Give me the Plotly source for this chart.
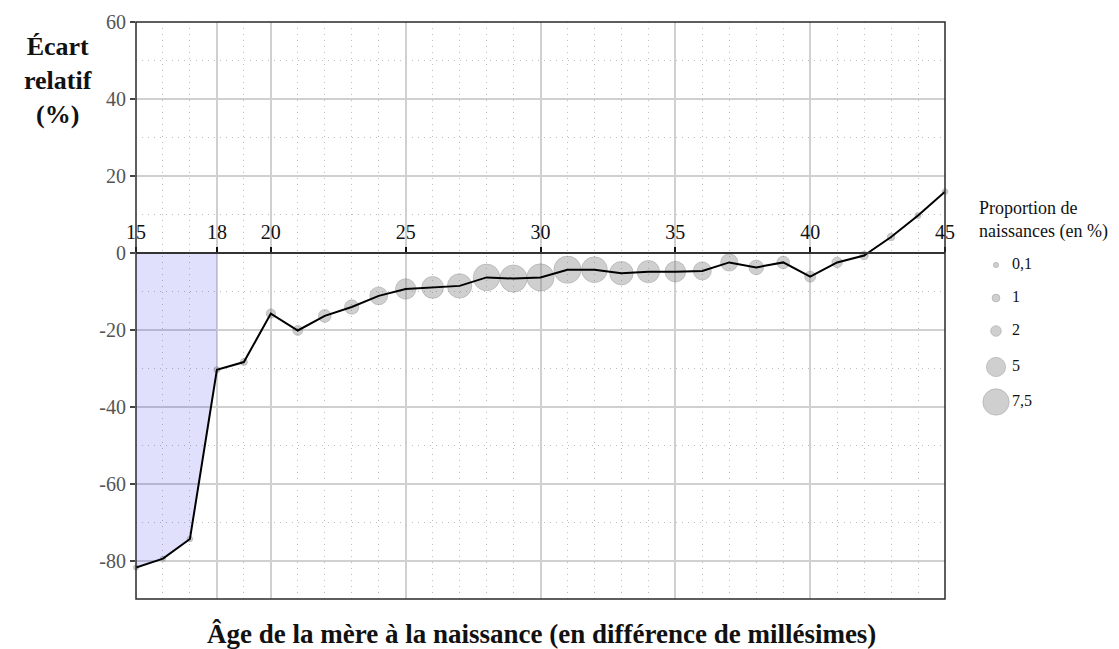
import plotly.graph_objects as go

# Âge de la mère (différence de millésimes)
ages = list(range(15, 46))

# Écart relatif (%) par âge de la mère
ecart = [-81.8, -79.5, -74.4, -30.4, -28.4, -15.8, -20.2, -16.4, -14.1, -11.2,
         -9.4, -9.0, -8.6, -6.4, -6.7, -6.4, -4.4, -4.4, -5.3, -4.9,
         -4.9, -4.7, -2.5, -3.8, -2.5, -6.2, -2.5, -0.7, 4.1, 9.7, 15.9]

# Proportion de naissances (en %) par âge de la mère
proportion = [0.05, 0.1, 0.2, 0.4, 0.7, 1.5, 1.7, 2.7, 3.3, 4.5,
              5.4, 5.9, 6.8, 7.6, 7.8, 7.8, 7.8, 7.3, 6.5, 6.1,
              5.5, 4.6, 4.3, 3.4, 2.7, 2.1, 1.9, 1.25, 0.9, 0.35, 0.2]

# Valeurs de la légende des tailles
legend_values = [0.1, 1, 2, 5, 7.5]
legend_labels = ["0,1", "1", "2", "5", "7,5"]

x_ticks = [15, 18, 20, 25, 30, 35, 40, 45]
y_ticks = [-80, -60, -40, -20, 0, 20, 40, 60]

AGE_MAJORITE = 18
FONT = "Liberation Serif"
W, H = 1119, 649
L, T, B = 136, 22, 50
PLOT_R = 945  # bord droit de la zone de tracé (px)
Y_MIN, Y_MAX = -90, 60

BUBBLE_FILL = "rgba(120,120,120,0.5)"
BUBBLE_EDGE = "rgba(110,110,110,0.45)"
DOT_GRID = "#bdbdbd"


def diametre(p):
    """Diamètre (px) d'une bulle pour une proportion p (%)."""
    return 5 + 2.85 * p


paper_w = W - L
plot_h = H - T - B
x_dom_end = (PLOT_R - L) / paper_w

fig = go.Figure()

# Zone des mères mineures : entre la courbe et 0
mineures = [(a, e) for a, e in zip(ages, ecart) if a <= AGE_MAJORITE]
fx = [a for a, _ in mineures] + [mineures[-1][0], mineures[0][0]]
fy = [e for _, e in mineures] + [0, 0]
fig.add_trace(go.Scatter(
    x=fx, y=fy, fill="toself", mode="lines",
    fillcolor="rgba(0,0,240,0.12)", line=dict(width=0),
    hoverinfo="skip", showlegend=False,
))

# Bulles proportionnelles aux naissances
fig.add_trace(go.Scatter(
    x=ages, y=ecart, mode="markers",
    marker=dict(size=[diametre(p) for p in proportion],
                color=BUBBLE_FILL, line=dict(width=1, color=BUBBLE_EDGE)),
    cliponaxis=False, showlegend=False,
))

# Courbe de l'écart relatif
fig.add_trace(go.Scatter(
    x=ages, y=ecart, mode="lines",
    line=dict(color="black", width=2),
    cliponaxis=False, showlegend=False,
))

# Légende des tailles (axes annexes en coordonnées pixel)
leg_x0 = L + 0.845 * paper_w
leg_y = [265, 298, 331, 367, 402]
fig.add_trace(go.Scatter(
    x=[996] * len(legend_values), y=leg_y, mode="markers",
    marker=dict(size=[diametre(v) for v in legend_values],
                color=BUBBLE_FILL, line=dict(width=1, color=BUBBLE_EDGE)),
    xaxis="x2", yaxis="y2", showlegend=False, cliponaxis=False,
))
fig.add_trace(go.Scatter(
    x=[1012] * len(legend_values), y=leg_y, mode="text",
    text=legend_labels, textposition="middle right",
    textfont=dict(family=FONT, size=16, color="#111"),
    xaxis="x2", yaxis="y2", showlegend=False, cliponaxis=False,
))

grid_major = dict(showgrid=True, gridcolor="#d0d0d0", gridwidth=2)

fig.update_layout(
    width=W, height=H, autosize=False,
    margin=dict(l=L, r=0, t=T, b=B, autoexpand=False),
    paper_bgcolor="white", plot_bgcolor="white",
    font=dict(family=FONT, color="#222"),
    xaxis=dict(
        domain=[0, x_dom_end], range=[15, 45], automargin=False,
        anchor="free", position=(0 - Y_MIN) / (Y_MAX - Y_MIN), side="top",
        tickvals=x_ticks, ticks="outside", ticklen=5, tickwidth=2,
        tickcolor="#111",
        tickfont=dict(family=FONT, size=20, color="#111"),
        showline=True, linecolor="#333", linewidth=1.5,
        zeroline=False,
        minor=dict(tickvals=ages, showgrid=True, gridcolor=DOT_GRID,
                   griddash="1px,5px", gridwidth=1, ticks=""),
        **grid_major,
    ),
    yaxis=dict(
        domain=[0, 1], range=[Y_MIN, Y_MAX], automargin=False,
        tickvals=y_ticks, ticktext=[str(v) for v in y_ticks],
        ticks="outside", ticklen=5, tickwidth=1.5,
        tickcolor="#444",
        tickfont=dict(family=FONT, size=20, color="#555"),
        showline=False, zeroline=False,
        minor=dict(tickvals=list(range(-90, 60, 20)), showgrid=True,
                   gridcolor=DOT_GRID, griddash="1px,5px", gridwidth=1,
                   ticks=""),
        **grid_major,
    ),
    xaxis2=dict(domain=[0.845, 1], range=[leg_x0, W], visible=False,
                anchor="y2", fixedrange=True, automargin=False),
    yaxis2=dict(domain=[0, 1], range=[H - B, T], visible=False,
                anchor="x2", fixedrange=True, automargin=False),
    shapes=[dict(type="rect", xref="x domain", yref="y domain",
                 x0=0, x1=1, y0=0, y1=1,
                 line=dict(color="#2a2a2a", width=1.5), layer="above")],
    annotations=[
        dict(text="<b>Écart<br>relatif<br>(%)</b>",
             xref="paper", yref="paper",
             x=(58 - L) / paper_w, y=1 - (80 - T) / plot_h,
             xanchor="center", yanchor="middle", showarrow=False,
             align="center",
             font=dict(family=FONT, size=26, color="#111")),
        dict(text="<b>Âge de la mère à la naissance (en différence de millésimes)</b>",
             xref="paper", yref="paper",
             x=(541 - L) / paper_w, y=-(634 - (H - B)) / plot_h,
             xanchor="center", yanchor="middle", showarrow=False,
             font=dict(family=FONT, size=27, color="#111")),
        dict(text="Proportion de<br>naissances (en %)",
             xref="x2", yref="y2", x=977, y=220,
             xanchor="left", yanchor="middle", showarrow=False,
             align="left",
             font=dict(family=FONT, size=18, color="#111")),
    ],
)

fig.write_html("out.html")
